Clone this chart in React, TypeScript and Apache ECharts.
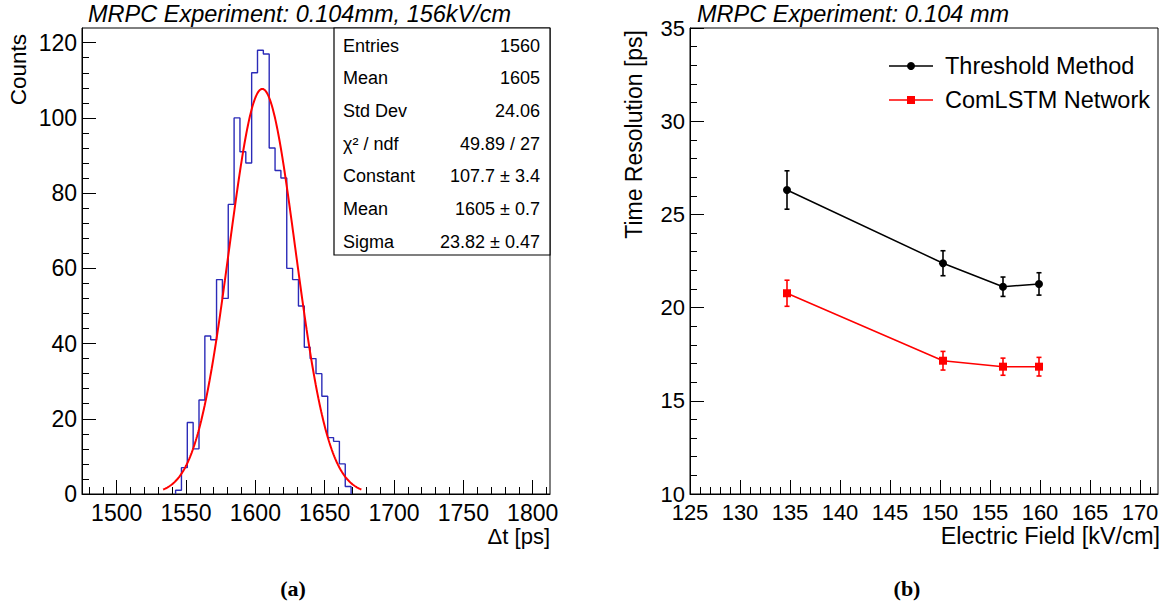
import React, { useEffect, useRef } from 'react';
import * as echarts from 'echarts';

// ---------- Panel (a): histogram ----------
const HIST_FIRST_BIN_LOW = 1542.5;
const HIST_BIN_WIDTH = 4.21875;
const histCounts = [1, 7, 19, 12, 25, 42, 41, 57, 52, 77, 100, 91, 88, 112, 118, 117, 92, 86, 84, 60, 57, 50, 39, 36, 32, 26, 15, 14, 8, 2];
const FIT_CONSTANT = 107.7;
const FIT_MEAN = 1605;
const FIT_SIGMA = 23.82;
const FIT_RANGE = [1533.5, 1676.5];

const histXTicks = [1500, 1550, 1600, 1650, 1700, 1750, 1800];
const histXMinorTicks = [1480, 1490, 1510, 1520, 1530, 1540, 1560, 1570, 1580, 1590, 1610, 1620, 1630, 1640, 1660, 1670, 1680, 1690, 1710, 1720, 1730, 1740, 1760, 1770, 1780, 1790, 1810];
const histYTicks = [0, 20, 40, 60, 80, 100, 120];
const histYMinorTicks = [4, 8, 12, 16, 24, 28, 32, 36, 44, 48, 52, 56, 64, 68, 72, 76, 84, 88, 92, 96, 104, 108, 112, 116];

const statsLabels = ['Entries', 'Mean', 'Std Dev', 'χ² / ndf', 'Constant', 'Mean', 'Sigma'];
const statsValues = ['1560', '1605', '24.06', '49.89 / 27', '107.7 ± 3.4', '1605 ± 0.7', '23.82 ± 0.47'];

// ---------- Panel (b): time resolution ----------
const fields = [134.7, 150.3, 156.3, 159.9];
const thresholdRes = [26.31, 22.38, 21.12, 21.27];
const thresholdErr = [1.03, 0.67, 0.52, 0.6];
const lstmRes = [20.77, 17.15, 16.83, 16.83];
const lstmErr = [0.7, 0.5, 0.46, 0.5];

const fieldTicks = [125, 130, 135, 140, 145, 150, 155, 160, 165, 170];
const fieldMinorTicks = [126, 127, 128, 129, 131, 132, 133, 134, 136, 137, 138, 139, 141, 142, 143, 144, 146, 147, 148, 149, 151, 152, 153, 154, 156, 157, 158, 159, 161, 162, 163, 164, 166, 167, 168, 169, 171];
const resTicks = [10, 15, 20, 25, 30, 35];
const resMinorTicks = [11, 12, 13, 14, 16, 17, 18, 19, 21, 22, 23, 24, 26, 27, 28, 29, 31, 32, 33, 34];

const FONT = 'Liberation Sans, Arial, Helvetica, sans-serif';

function majorAxis(gridIndex: number, min: number, max: number, ticks: number[], isX: boolean, fontSize: number) {
  return {
    type: 'value',
    gridIndex,
    min,
    max,
    position: isX ? 'bottom' : 'left',
    axisLine: { show: true, onZero: false, lineStyle: { color: '#000', width: 1 } },
    axisTick: { show: true, inside: true, length: 14, customValues: ticks, lineStyle: { color: '#000', width: 1 } },
    axisLabel: {
      show: true,
      customValues: ticks,
      color: '#000',
      fontSize,
      fontFamily: FONT,
      margin: isX ? 7 : 5,
      hideOverlap: false,
      formatter: (v: number) => String(v),
    },
    splitLine: { show: false },
  };
}

function minorAxis(gridIndex: number, min: number, max: number, ticks: number[], isX: boolean) {
  return {
    type: 'value',
    gridIndex,
    min,
    max,
    position: isX ? 'bottom' : 'left',
    offset: 0,
    axisLine: { show: false, onZero: false },
    axisTick: { show: true, inside: true, length: 7, customValues: ticks, lineStyle: { color: '#000', width: 1 } },
    axisLabel: { show: false },
    splitLine: { show: false },
  };
}

function errorBarSeries(name: string, xs: number[], ys: number[], errs: number[], color: string) {
  return {
    type: 'custom',
    name,
    xAxisIndex: 2,
    yAxisIndex: 2,
    silent: true,
    z: 3,
    data: xs.map((x, i) => [x, ys[i] - errs[i], ys[i] + errs[i]]),
    encode: { x: 0, y: [1, 2] },
    renderItem: (params: any, api: any) => {
      const x = api.value(0);
      const lo = api.coord([x, api.value(1)]);
      const hi = api.coord([x, api.value(2)]);
      const cap = 2.5;
      const st = { stroke: color, lineWidth: 1.6 };
      return {
        type: 'group',
        children: [
          { type: 'line', shape: { x1: lo[0], y1: lo[1], x2: hi[0], y2: hi[1] }, style: st },
          { type: 'line', shape: { x1: lo[0] - cap, y1: lo[1], x2: lo[0] + cap, y2: lo[1] }, style: st },
          { type: 'line', shape: { x1: hi[0] - cap, y1: hi[1], x2: hi[0] + cap, y2: hi[1] }, style: st },
        ],
      };
    },
  };
}

export default function App() {
  const ref = useRef<HTMLDivElement>(null);

  useEffect(() => {
    if (!ref.current) return;
    const chart = echarts.init(ref.current, undefined, { renderer: 'svg' });

    // histogram outline points (step)
    const histPts: number[][] = [[HIST_FIRST_BIN_LOW, 0]];
    histCounts.forEach((c, i) => histPts.push([HIST_FIRST_BIN_LOW + i * HIST_BIN_WIDTH, c]));
    const lastHigh = HIST_FIRST_BIN_LOW + histCounts.length * HIST_BIN_WIDTH;
    histPts.push([lastHigh, histCounts[histCounts.length - 1]]);
    histPts.push([lastHigh, 0]);

    // fitted Gaussian (from the fit parameters shown in the stats box)
    const fitPts: number[][] = [];
    for (let x = FIT_RANGE[0]; x <= FIT_RANGE[1] + 1e-9; x += 0.5) {
      fitPts.push([x, FIT_CONSTANT * Math.exp(-0.5 * ((x - FIT_MEAN) / FIT_SIGMA) ** 2)]);
    }

    const rowY0 = 45.7;
    const rowDy = 32.65;
    const statsGraphics: any[] = [
      {
        type: 'rect',
        shape: { x: 334, y: 28, width: 216, height: 227 },
        style: { fill: '#fff', stroke: '#000', lineWidth: 1.2 },
        z: 100,
      },
    ];
    statsLabels.forEach((lab, i) => {
      statsGraphics.push({
        type: 'text',
        x: 343,
        y: rowY0 + i * rowDy,
        z: 101,
        style: { text: lab, font: `18px ${FONT}`, fill: '#000', align: 'left', verticalAlign: 'middle' },
      });
      statsGraphics.push({
        type: 'text',
        x: 540,
        y: rowY0 + i * rowDy,
        z: 101,
        style: { text: statsValues[i], font: `18px ${FONT}`, fill: '#000', align: 'right', verticalAlign: 'middle' },
      });
    });

    const option: any = {
      animation: false,
      backgroundColor: '#fff',
      grid: [
        { left: 82, top: 28, width: 468, height: 466, show: true, borderColor: '#000', borderWidth: 1, backgroundColor: 'transparent' },
        { left: 690, top: 28, width: 468, height: 466, show: true, borderColor: '#000', borderWidth: 1, backgroundColor: 'transparent' },
      ],
      xAxis: [
        majorAxis(0, 1475, 1812.5, histXTicks, true, 23),
        minorAxis(0, 1475, 1812.5, histXMinorTicks, true),
        majorAxis(1, 125, 171.8, fieldTicks, true, 22),
        minorAxis(1, 125, 171.8, fieldMinorTicks, true),
      ],
      yAxis: [
        majorAxis(0, 0, 123.9, histYTicks, false, 23),
        minorAxis(0, 0, 123.9, histYMinorTicks, false),
        majorAxis(1, 10, 35, resTicks, false, 22),
        minorAxis(1, 10, 35, resMinorTicks, false),
      ],
      series: [
        {
          type: 'line',
          name: 'Histogram',
          xAxisIndex: 0,
          yAxisIndex: 0,
          data: histPts,
          step: 'end',
          showSymbol: false,
          lineStyle: { color: '#2b2bb8', width: 1.4 },
          silent: true,
          z: 2,
        },
        {
          type: 'line',
          name: 'Gaussian fit',
          xAxisIndex: 0,
          yAxisIndex: 0,
          data: fitPts,
          showSymbol: false,
          smooth: false,
          lineStyle: { color: '#ff0000', width: 2 },
          silent: true,
          z: 3,
        },
        {
          type: 'line',
          name: 'Threshold Method',
          xAxisIndex: 2,
          yAxisIndex: 2,
          data: fields.map((x, i) => [x, thresholdRes[i]]),
          symbol: 'circle',
          symbolSize: 8,
          itemStyle: { color: '#000' },
          lineStyle: { color: '#000', width: 1.5 },
          z: 4,
        },
        errorBarSeries('Threshold Method err', fields, thresholdRes, thresholdErr, '#000'),
        {
          type: 'line',
          name: 'ComLSTM Network',
          xAxisIndex: 2,
          yAxisIndex: 2,
          data: fields.map((x, i) => [x, lstmRes[i]]),
          symbol: 'rect',
          symbolSize: 8,
          itemStyle: { color: '#ff0000' },
          lineStyle: { color: '#ff0000', width: 1.5 },
          z: 4,
        },
        errorBarSeries('ComLSTM Network err', fields, lstmRes, lstmErr, '#ff0000'),
      ],
      graphic: [
        // titles
        { type: 'text', x: 88, y: 14, style: { text: 'MRPC Experiment: 0.104mm, 156kV/cm', font: `italic 23.5px ${FONT}`, fill: '#000', align: 'left', verticalAlign: 'middle' } },
        { type: 'text', x: 697, y: 14, style: { text: 'MRPC Experiment: 0.104 mm', font: `italic 23.5px ${FONT}`, fill: '#000', align: 'left', verticalAlign: 'middle' } },
        // axis titles
        { type: 'text', x: 18, y: 34, rotation: Math.PI / 2, style: { text: 'Counts', font: `22.5px ${FONT}`, fill: '#000', align: 'right', verticalAlign: 'middle' } },
        { type: 'text', x: 550, y: 536, style: { text: 'Δt [ps]', font: `22px ${FONT}`, fill: '#000', align: 'right', verticalAlign: 'middle' } },
        { type: 'text', x: 634, y: 30, rotation: Math.PI / 2, style: { text: 'Time Resolution [ps]', font: `23px ${FONT}`, fill: '#000', align: 'right', verticalAlign: 'middle' } },
        { type: 'text', x: 1160, y: 536, style: { text: 'Electric Field [kV/cm]', font: `23.5px ${FONT}`, fill: '#000', align: 'right', verticalAlign: 'middle' } },
        // captions
        { type: 'text', x: 293, y: 588, style: { text: '(a)', font: `bold 22px Liberation Serif, Times New Roman, serif`, fill: '#000', align: 'center', verticalAlign: 'middle' } },
        { type: 'text', x: 907, y: 588, style: { text: '(b)', font: `bold 22px Liberation Serif, Times New Roman, serif`, fill: '#000', align: 'center', verticalAlign: 'middle' } },
        // legend
        { type: 'line', shape: { x1: 889, y1: 66, x2: 933, y2: 66 }, style: { stroke: '#000', lineWidth: 1.5 }, z: 10 },
        { type: 'circle', shape: { cx: 911, cy: 66, r: 4 }, style: { fill: '#000' }, z: 11 },
        { type: 'text', x: 945, y: 66, style: { text: 'Threshold Method', font: `23.5px ${FONT}`, fill: '#000', align: 'left', verticalAlign: 'middle' }, z: 11 },
        { type: 'line', shape: { x1: 889, y1: 100, x2: 933, y2: 100 }, style: { stroke: '#ff0000', lineWidth: 1.5 }, z: 10 },
        { type: 'rect', shape: { x: 907, y: 96, width: 8, height: 8 }, style: { fill: '#ff0000' }, z: 11 },
        { type: 'text', x: 945, y: 100, style: { text: 'ComLSTM Network', font: `23.5px ${FONT}`, fill: '#000', align: 'left', verticalAlign: 'middle' }, z: 11 },
        ...statsGraphics,
      ],
    };

    chart.setOption(option);
    return () => chart.dispose();
  }, []);

  return (
    <div
      ref={ref}
      style={{ position: 'absolute', left: 0, top: 0, width: 1166, height: 603, background: '#fff' }}
    />
  );
}
